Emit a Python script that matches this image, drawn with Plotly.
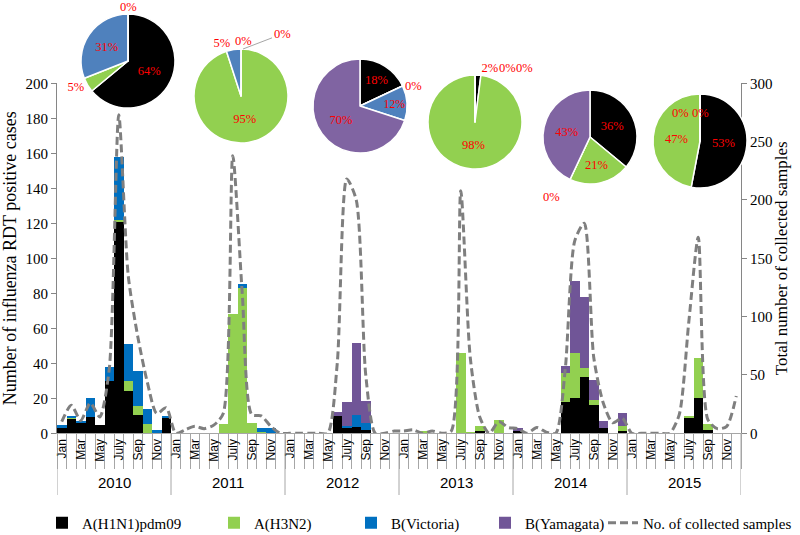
import plotly.graph_objects as go

# ---------------- data ----------------
months = ["Jan", "Feb", "Mar", "Apr", "May", "Jun", "July", "Aug", "Sep", "Oct", "Nov", "Dec"]
years = ["2010", "2011", "2012", "2013", "2014", "2015"]

h1n1 = [3, 8, 6, 9, 4.5, 30, 121, 24, 10.5, 0, 0, 9,
        0, 0, 0, 0, 0, 0, 0, 0, 0, 0, 0, 0,
        0, 0, 0, 0, 0, 10, 3, 3.5, 1.5, 0, 0, 0,
        0, 0, 0, 0, 0, 0, 0, 0, 1, 0, 0, 0,
        1, 0, 0, 0, 0, 17.5, 20, 32, 16, 3, 0, 1,
        0, 0, 0, 0, 0, 0, 8.5, 20, 2, 0, 0, 0]
h3n2 = [0, 0.5, 0, 0, 0, 0, 1, 6, 5, 5, 0, 0,
        0, 0, 0, 0, 0, 5, 68, 83, 6, 0.5, 0, 0,
        0, 0, 0, 0, 0, 0, 0, 0, 0, 0, 0, 0,
        0, 0, 1, 0, 0, 0, 46, 0.5, 3, 0, 7.5, 0,
        0, 0, 0, 0, 0, 17, 25.5, 5, 3, 0, 0, 3,
        0, 0, 0, 0, 0, 0, 1.5, 23, 3, 0, 0, 0]
victoria = [1.5, 1.5, 1, 11, 0, 8, 36, 21, 20, 9, 2, 1,
            0, 0, 0, 0, 0, 0, 0, 2, 0, 2.5, 3, 0,
            0, 0, 0, 0, 0, 0, 1, 7, 4, 0, 0, 0,
            0, 0, 0, 0, 0, 0, 0, 0, 0, 0, 0, 0,
            0, 0, 0, 0, 0, 0, 0, 0, 0, 0, 0, 0,
            0, 0, 0, 0, 0, 0, 0, 0, 0, 0, 0, 0]
yamagata = [0, 0, 0, 0, 0, 0, 0, 0, 0, 0, 0, 0,
            0, 0, 0, 0, 0, 0, 0, 0, 0, 0, 0, 0,
            0, 0, 0, 0, 0, 2, 14, 41, 13, 0, 0, 0,
            0, 0, 0, 0, 0, 0, 0, 0, 0, 0, 0, 0,
            2, 0, 0, 0, 0, 4, 41.5, 41, 11.5, 4, 0, 7.5,
            0, 0, 0, 0, 0, 0, 0, 0, 0, 0, 0, 0]
samples = [10, 24, 11, 26, 14, 55, 273, 135, 83, 44, 17, 22,
           0, 3, 6, 4, 7, 17, 238, 120, 16, 15, 6, 0,
           0, 0, 0, 0, 0, 60, 218, 200, 50, 0, 0, 2,
           2, 3, 0, 2, 0, 2, 208, 65, 14, 0, 10, 5,
           4, 0, 5, 1, 0, 55, 165, 180, 65, 26, 9, 13,
           0, 0, 0, 0, 0, 16, 95, 168, 12, 4, 6, 32]

series_names = ["A(H1N1)pdm09", "A(H3N2)", "B(Victoria)", "B(Yamagata)"]
line_name = "No. of collected samples"
pie_2010 = [64, 5, 31, 0]
pie_2011 = [0, 95, 5, 0]
pie_2012 = [18, 0, 12, 70]
pie_2013 = [2, 98, 0, 0]
pie_2014 = [36, 21, 0, 43]
pie_2015 = [53, 47, 0, 0]

# ---------------- styles ----------------
W, H = 800, 535
X0, X1 = 57, 741
Y0, Y1 = 433.3, 83.3
bar_colors = ["#000000", "#92D050", "#0070C0", "#705597"]
pie_colors = ["#000000", "#92D050", "#4F81BD", "#8064A2"]
serif = "Liberation Serif"
sans = "Liberation Sans"
legend_left_px = [42, 214, 351, 485, 603]
pie_red = "#FF0000"

x = list(range(len(months) * len(years)))
tickvals = x[::2]
ticktext = [months[i % 12] for i in tickvals]

legend_ids = ["legend", "legend2", "legend3", "legend4", "legend5"]

fig = go.Figure()
for name, vals, col, lg in zip(series_names, [h1n1, h3n2, victoria, yamagata], bar_colors, legend_ids):
    fig.add_trace(go.Bar(x=x, y=vals, name=name, marker=dict(color=col, line=dict(width=0)),
                         width=1.0, legend=lg))
fig.add_trace(go.Scatter(x=x, y=samples, name=line_name, yaxis="y2", legend=legend_ids[4],
                         mode="lines", line=dict(color="#7F7F7F", width=3, dash="8px,4px",
                                                  shape="spline", smoothing=0.7)))


def dom(cx, cy, r=47):
    return dict(x=[(cx - r) / W, (cx + r) / W], y=[(H - cy - r) / H, (H - cy + r) / H])


# (values, centre px, text position of slices, label spots of zero slices)
pie_specs = [
    (pie_2010, (128, 61), ["inside", "outside", "inside", "none"], [(128, 7)]),
    (pie_2011, (241, 96), ["none", "inside", "outside", "none"], [(243, 41), (282, 34)]),
    (pie_2012, (360, 106), ["inside", "none", "inside", "inside"], [(413, 86)]),
    (pie_2013, (475, 122), ["outside", "inside", "none", "none"], [(507, 68), (524, 68)]),
    (pie_2014, (590, 137), ["inside", "inside", "none", "inside"], [(551, 197)]),
    (pie_2015, (700, 141), ["inside", "inside", "none", "none"], [(680, 113), (700, 113)]),
]
annotations = []
for pi, (vals, (cx, cy), tp, zero_spots) in enumerate(pie_specs):
    tp = [("none" if v == 0 else t) for v, t in zip(vals, tp)]
    fig.add_trace(go.Pie(labels=series_names, values=vals, domain=dom(cx, cy), sort=False,
                         direction="clockwise", rotation=0,
                         marker=dict(colors=pie_colors, line=dict(color="white", width=1.5)),
                         texttemplate="%{percent:.0%}", textposition=tp,
                         insidetextorientation="horizontal",
                         textfont=dict(family=serif, size=12.5, color=pie_red),
                         showlegend=False, hoverinfo="label+percent"))
    zero_vals = [v for v in vals if v == 0]
    for j, (v, (zx, zy)) in enumerate(zip(zero_vals, zero_spots)):
        ann = dict(x=zx / W, y=(H - zy) / H, xref="paper", yref="paper", text=f"{v}%",
                   xanchor="center", yanchor="middle",
                   showarrow=False, font=dict(family=serif, size=12.5, color=pie_red))
        if pi == 1 and j == len(zero_spots) - 1:
            ann.update(x=243 / W, y=(H - 49) / H, showarrow=True, arrowhead=0, arrowwidth=1,
                       arrowcolor="#A6A6A6", ax=zx - 243, ay=zy - 49)
        annotations.append(ann)

shapes = []
for k in range(len(years) + 1):
    xv = 12 * k - 0.5
    shapes.append(dict(type="line", xref="x", yref="paper", x0=xv, x1=xv,
                       y0=(H - Y0) / H, y1=(H - 495) / H,
                       line=dict(color="#A6A6A6", width=1)))
for i, yr in enumerate(years):
    annotations.append(dict(x=12 * i + 5.5, y=(H - 483) / H, xref="x", yref="paper",
                            xanchor="center", yanchor="middle",
                            text=yr, showarrow=False, font=dict(family=sans, size=15, color="#000000")))

legends = {}
for lg, lx in zip(legend_ids, legend_left_px):
    legends[lg] = dict(orientation="h", x=lx / W, y=(H - 523) / H, xanchor="left", yanchor="middle",
                       font=dict(family=serif, size=15), bgcolor="rgba(0,0,0,0)")

fig.update_layout(
    width=W, height=H, margin=dict(l=0, r=0, t=0, b=0, autoexpand=False),
    barmode="stack", bargap=0,
    plot_bgcolor="white", paper_bgcolor="white",
    font=dict(family=serif, size=14, color="#000000"),
    shapes=shapes, annotations=annotations,
    xaxis=dict(domain=[X0 / W, X1 / W], range=[-0.5, 71.5], tickmode="array",
               tickvals=tickvals, ticktext=ticktext, tickangle=-90, automargin=False,
               tickfont=dict(family=sans, size=12, color="#000000"),
               showline=True, linecolor="#A6A6A6", linewidth=1, ticks="",
               minor=dict(tickmode="array", tickvals=[v - 0.5 for v in range(73)],
                          ticks="outside", ticklen=35, tickcolor="#A6A6A6", tickwidth=1),
               showgrid=False, zeroline=False, anchor="y"),
    yaxis=dict(domain=[(H - Y0) / H, (H - Y1) / H], range=[0, 200], dtick=20, automargin=False,
               ticks="outside", ticklen=5, tickcolor="#868686",
               showline=True, linecolor="#868686", showgrid=False, zeroline=False,
               tickfont=dict(family=serif, size=15),
               title=dict(text="Number of influenza RDT positive cases",
                          font=dict(family=serif, size=18), standoff=6)),
    yaxis2=dict(overlaying="y", side="right", range=[0, 300], dtick=50, anchor="x", automargin=False,
                ticks="outside", ticklen=5, tickcolor="#868686",
                showline=True, linecolor="#868686", showgrid=False, zeroline=False,
                tickfont=dict(family=serif, size=15),
                title=dict(text="Total number of collected samples",
                           font=dict(family=serif, size=17), standoff=3)),
    **legends,
)

fig.write_html("out.html", config={"displayModeBar": False},
               post_script="document.body.style.margin='0px';document.body.style.overflow='hidden';")
